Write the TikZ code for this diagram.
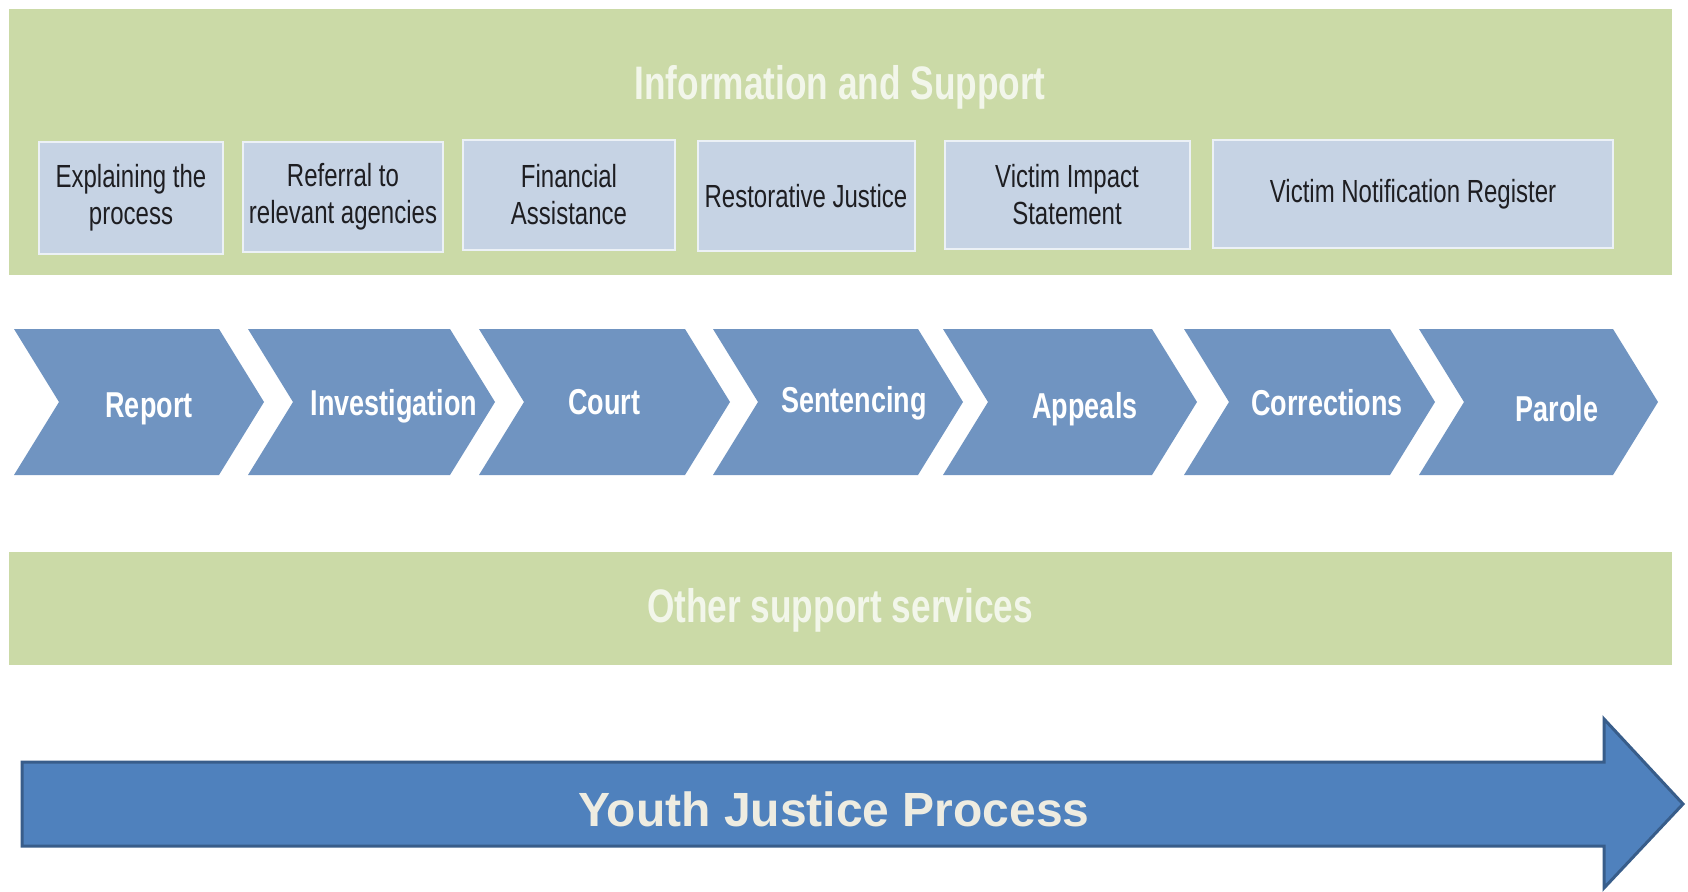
\documentclass[tikz,border=0pt]{standalone}
\usepackage{fontspec}
\setmainfont{Liberation Sans}
\newfontfamily\narrowfont[FakeStretch=0.75]{Liberation Sans}

\definecolor{panelgreen}{RGB}{203,218,167}
\definecolor{titlewhite}{RGB}{242,246,234}
\definecolor{boxblue}{RGB}{198,211,228}
\definecolor{boxedge}{RGB}{236,241,246}
\definecolor{boxtext}{RGB}{30,30,34}
\definecolor{chevblue}{RGB}{112,148,193}
\definecolor{arrowblue}{RGB}{79,129,189}
\definecolor{arrowedge}{RGB}{56,93,138}
\definecolor{arrowtext}{RGB}{238,236,225}

\tikzset{
  panel/.style={fill=panelgreen, draw=none},
  paneltitle/.style={text=titlewhite, font=\narrowfont\bfseries\fontsize{47}{52}\selectfont},
  infobox/.style={fill=boxblue, draw=boxedge, line width=2pt, text=boxtext,
    align=center, inner sep=0pt,
    font=\narrowfont\fontsize{32}{37}\selectfont},
  chevron/.style={fill=chevblue, draw=none},
  chevlabel/.style={text=white, inner sep=0pt,
    font=\narrowfont\bfseries\fontsize{36}{40}\selectfont},
  bigarrow/.style={fill=arrowblue, draw=arrowedge, line width=3pt, line join=miter},
  arrowlabel/.style={text=arrowtext, font=\bfseries\fontsize{48}{54}\selectfont}
}

\begin{document}
\begin{tikzpicture}[x=1pt, y=-1pt]
\useasboundingbox (0,0) rectangle (1688,891);
\fill[white] (0,0) rectangle (1688,891);

% Information and Support panel
\path[panel] (9,9) rectangle (1672,275);
\node[paneltitle] (infotitle) at (840,87) {Information and Support};

% Support items
\node[infobox, minimum width=184, minimum height=112] (explain)  at (131,198) {Explaining the\\process};
\node[infobox, minimum width=200, minimum height=110] (referral) at (343,197) {Referral to\\relevant agencies};
\node[infobox, minimum width=212, minimum height=110] (finance)  at (569,195) {Financial\\Assistance};
\node[infobox, minimum width=217, minimum height=110] (restore)  at (806,196) {Restorative Justice};
\node[infobox, minimum width=245, minimum height=108] (impact)   at (1067,195) {Victim Impact\\Statement};
\node[infobox, minimum width=400, minimum height=108] (register) at (1413,194) {Victim Notification Register};

% Process chevrons: left edge / tip / label position / name / label
\foreach \l/\t/\lx/\ly/\nm/\txt in {
    14/264/149/409/report/Report,
    248/495/394/406/investigation/Investigation,
    479/730/604/402/court/Court,
    713/963/854/403/sentencing/Sentencing,
    943/1197/1085/409/appeals/Appeals,
    1184/1435/1327/403/corrections/Corrections,
    1419/1658/1557/409/parole/Parole} {
  \path[chevron] (\l,329) -- ({\t-45},329) -- (\t,402) -- ({\t-45},475)
    -- (\l,475) -- ({\l+45},402) -- cycle;
  \node[chevlabel] (\nm) at (\lx,\ly) {\txt};
}

% Other support services panel
\path[panel] (9,552) rectangle (1672,665);
\node[paneltitle] (othertitle) at (840,610) {Other support services};

% Youth Justice Process arrow
\path[bigarrow] (22,762) -- (1604,762) -- (1604,719) -- (1683,804)
  -- (1604,888) -- (1604,846) -- (22,846) -- cycle;
\node[arrowlabel] (process) at (834,809) {Youth Justice Process};
\end{tikzpicture}
\end{document}
